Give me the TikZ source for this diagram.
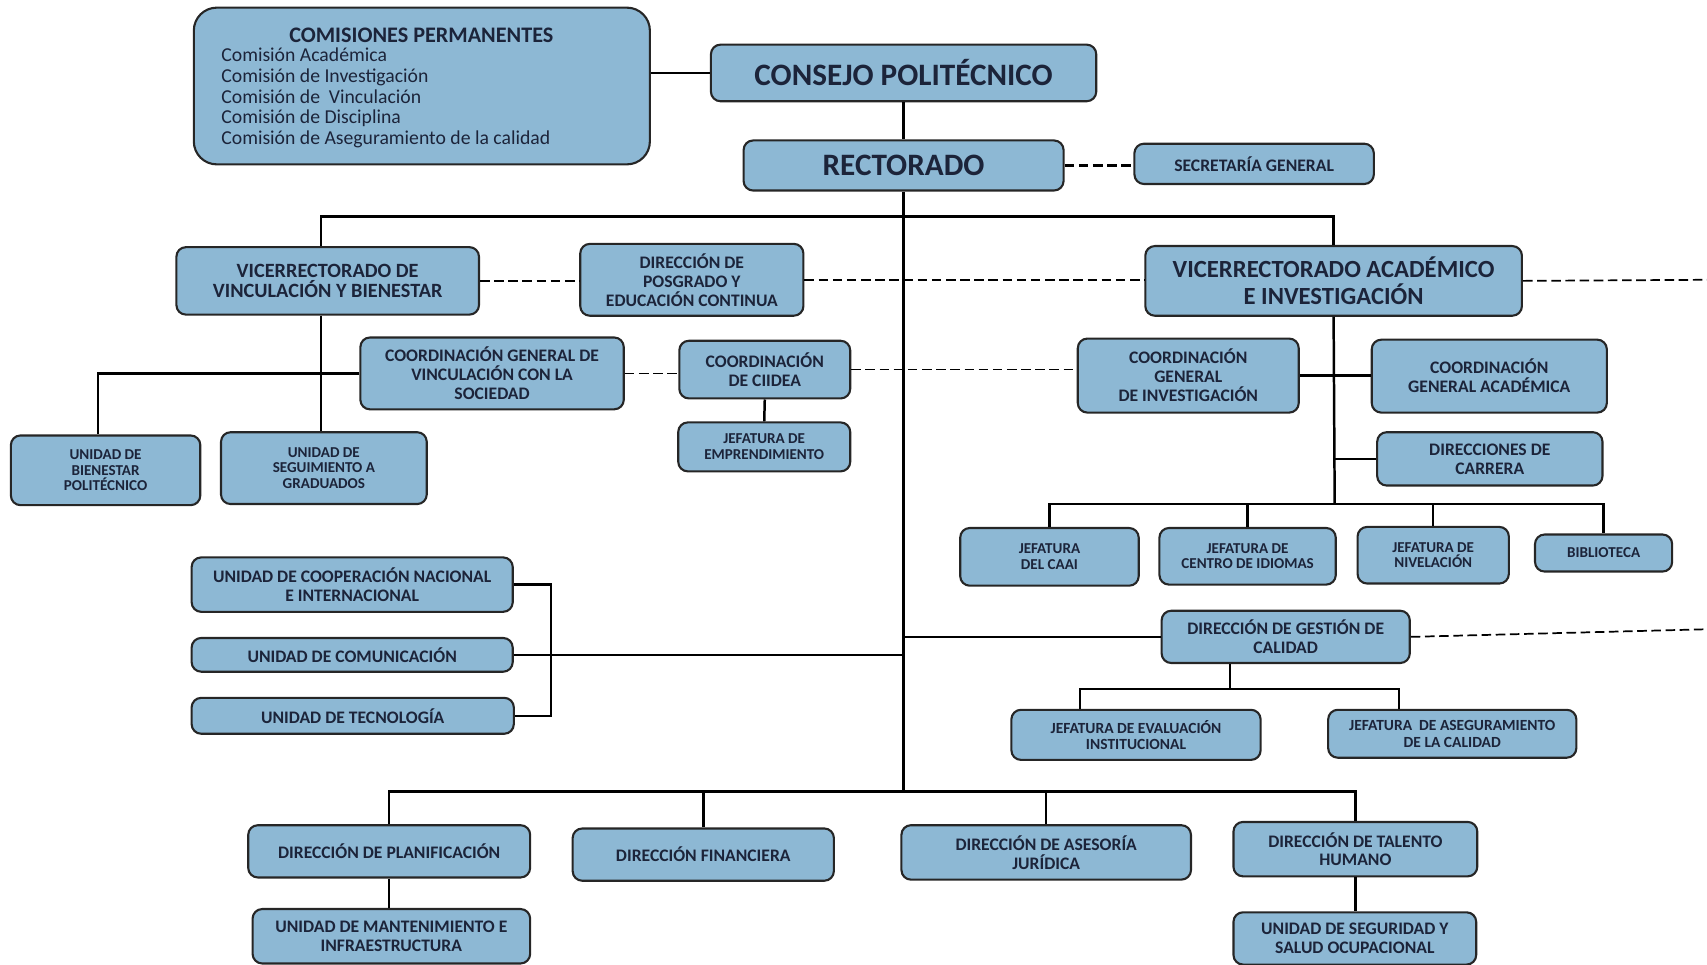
\documentclass[tikz,border=0pt]{standalone}
\usepackage{fontspec}
\setmainfont{Carlito}
\usetikzlibrary{positioning}
\definecolor{boxblue}{RGB}{141,184,212}
\definecolor{boxtext}{RGB}{28,36,58}

\tikzset{
  box/.style={draw=black!85, line width=1.1pt, fill=boxblue, rounded corners=5pt,
              align=center, text=boxtext, inner sep=1pt},
  link/.style={line width=1.3pt, black},
  dlink/.style={line width=0.9pt, black, dash pattern=on 5pt off 2.4pt},
  huge/.style={font=\fontsize{16.3}{18}\selectfont\bfseries},
  big/.style={font=\fontsize{12.9}{13.8}\selectfont\bfseries},
  mid/.style={font=\fontsize{9.2}{9.9}\selectfont\bfseries},
  small/.style={font=\fontsize{8.1}{8.6}\selectfont\bfseries},
  tiny/.style={font=\fontsize{7.9}{8.1}\selectfont\bfseries}
}

\begin{document}
\begin{tikzpicture}[x=0.02cm,y=-0.02cm]
    \useasboundingbox (0,0) rectangle (1568,886);

    % top: commissions, council, rectorate
    \node[box, rounded corners=12pt, minimum width=8.38cm, minimum height=2.88cm] (com) at (387.5,79) {};
    \node[text=boxtext, font=\fontsize{11.6}{13}\selectfont\bfseries] (comhead) at (387,32) {COMISIONES PERMANENTES};
    \node[text=boxtext, align=left, anchor=north west, inner sep=0pt,
          font=\fontsize{10.3}{10.8}\selectfont] (comlist) at (203,44)
          {Comisión Académica\\ Comisión de Investigación\\ Comisión de\ \ Vinculación\\
           Comisión de Disciplina\\ Comisión de Aseguramiento de la calidad};
    \node[box, huge, minimum width=7.08cm, minimum height=1.04cm] (consejo) at (830,67) {CONSEJO POLITÉCNICO};
    \node[box, huge, minimum width=5.88cm, minimum height=0.92cm] (rect) at (830,152) {RECTORADO};
    \node[box, mid, minimum width=4.4cm, minimum height=0.74cm] (secgen) at (1152,150.5) {SECRETARÍA GENERAL};

    % vice-rectorates
    \node[box, font=\fontsize{10.6}{10.5}\selectfont\bfseries, minimum width=5.56cm, minimum height=1.24cm] (vvinc) at (301,258) {VICERRECTORADO DE\\ VINCULACIÓN Y BIENESTAR};
    \node[box, mid, minimum width=4.1cm, minimum height=1.32cm] (posgr) at (635.5,257) {DIRECCIÓN DE\\ POSGRADO Y\\ EDUCACIÓN CONTINUA};
    \node[box, big, minimum width=6.92cm, minimum height=1.28cm] (vacad) at (1225,258) {VICERRECTORADO ACADÉMICO\\ E INVESTIGACIÓN};

    % coordinations
    \node[box, mid, minimum width=4.84cm, minimum height=1.32cm] (cgvinc) at (452,343) {COORDINACIÓN GENERAL DE\\ VINCULACIÓN CON LA\\ SOCIEDAD};
    \node[box, mid, minimum width=3.14cm, minimum height=1.06cm] (ciidea) at (702.5,339.5) {COORDINACIÓN\\ DE CIIDEA};
    \node[box, tiny, minimum width=3.16cm, minimum height=0.9cm] (emprend) at (702,410.5) {JEFATURA DE\\ EMPRENDIMIENTO};
    \node[box, tiny, minimum width=3.48cm, minimum height=1.28cm] (bienestar) at (97,432) {UNIDAD DE\\ BIENESTAR\\ POLITÉCNICO};
    \node[box, tiny, minimum width=3.78cm, minimum height=1.32cm] (segui) at (297.5,430) {UNIDAD DE\\ SEGUIMIENTO A\\ GRADUADOS};
    \node[box, mid, minimum width=4.06cm, minimum height=1.36cm] (cginv) at (1091.5,345) {COORDINACIÓN\\ GENERAL\\ DE INVESTIGACIÓN};
    \node[box, mid, minimum width=4.32cm, minimum height=1.34cm] (cgacad) at (1368,345.5) {COORDINACIÓN\\ GENERAL ACADÉMICA};
    \node[box, mid, minimum width=4.14cm, minimum height=0.98cm] (dircarr) at (1368.5,421.5) {DIRECCIONES DE\\ CARRERA};

    % academic units
    \node[box, tiny, minimum width=3.28cm, minimum height=1.06cm] (caai) at (964,511.5) {JEFATURA\\ DEL CAAI};
    \node[box, tiny, minimum width=3.24cm, minimum height=1.04cm] (idiomas) at (1146,511) {JEFATURA DE\\ CENTRO DE IDIOMAS};
    \node[box, tiny, minimum width=2.78cm, minimum height=1.04cm] (nivel) at (1316.5,510) {JEFATURA DE\\ NIVELACIÓN};
    \node[box, tiny, minimum width=2.52cm, minimum height=0.68cm] (biblio) at (1473,508) {BIBLIOTECA};

    % quality
    \node[box, mid, minimum width=4.56cm, minimum height=0.96cm] (gestcal) at (1181,585) {DIRECCIÓN DE GESTIÓN DE\\ CALIDAD};
    \node[box, small, minimum width=4.58cm, minimum height=0.92cm] (evalinst) at (1043.5,675) {JEFATURA DE EVALUACIÓN\\ INSTITUCIONAL};
    \node[box, small, minimum width=4.56cm, minimum height=0.88cm] (asegcal) at (1334,674) {JEFATURA\ \ DE ASEGURAMIENTO\\ DE LA CALIDAD};

    % support units
    \node[box, mid, minimum width=5.9cm, minimum height=1.0cm] (coop) at (323.5,537) {UNIDAD DE COOPERACIÓN NACIONAL\\ E INTERNACIONAL};
    \node[box, mid, minimum width=5.9cm, minimum height=0.62cm] (comun) at (323.5,601.5) {UNIDAD DE COMUNICACIÓN};
    \node[box, mid, minimum width=5.92cm, minimum height=0.66cm] (tecno) at (324,657.5) {UNIDAD DE TECNOLOGÍA};

    % directions
    \node[box, mid, minimum width=5.18cm, minimum height=0.96cm] (planif) at (357.5,782) {DIRECCIÓN DE PLANIFICACIÓN};
    \node[box, mid, minimum width=4.8cm, minimum height=0.96cm] (financ) at (646,785) {DIRECCIÓN FINANCIERA};
    \node[box, mid, minimum width=5.32cm, minimum height=1.0cm] (asesor) at (961,783) {DIRECCIÓN DE ASESORÍA\\ JURÍDICA};
    \node[box, mid, minimum width=4.48cm, minimum height=1.0cm] (talento) at (1245,780) {DIRECCIÓN DE TALENTO\\ HUMANO};
    \node[box, mid, minimum width=5.1cm, minimum height=1.0cm] (manten) at (359.5,860) {UNIDAD DE MANTENIMIENTO E\\ INFRAESTRUCTURA};
    \node[box, mid, minimum width=4.46cm, minimum height=0.96cm] (segur) at (1244.5,862) {UNIDAD DE SEGURIDAD Y\\ SALUD OCUPACIONAL};

    % bus points and loose ends
    \coordinate (topbus) at (830,199);
    \coordinate (acadbus) at (1226,463);
    \coordinate (calbus) at (1130,633);
    \coordinate (botbus) at (830,727);
    \coordinate (edgeA) at (1568,257);
    \coordinate (edgeB) at (1568,578);

    % solid connectors
    \draw[link] (consejo.west) -- (consejo.west -| com.east);
    \draw[link] (consejo.south) -- (rect.north);
    \draw[link] (rect.south) -- (botbus);
    \draw[link] ([xshift=-0.12cm]vvinc.north) |- (topbus) -| (vacad.north);
    \draw[link] ([xshift=-0.12cm]vvinc.south) -- ([xshift=-0.12cm]vvinc.south |- segui.north);
    \draw[link] (cgvinc.west) -| ([xshift=-0.14cm]bienestar.north);
    \draw[link] (ciidea.south) -- (emprend.north);
    \draw[link] (vacad.south) -- (acadbus);
    \draw[link] (cginv.east) -- (cginv.east -| cgacad.west);
    \draw[link] (dircarr.west) -- (dircarr.west -| acadbus);
    \draw[link] (caai.north) |- (acadbus) -| (biblio.north);
    \draw[link] (idiomas.north) -- (idiomas.north |- acadbus);
    \draw[link] (nivel.north) -- (nivel.north |- acadbus);
    \draw[link] (gestcal.west) -- (gestcal.west -| botbus);
    \draw[link] (gestcal.south -| calbus) -- (calbus);
    \draw[link] ([xshift=-1.03cm]evalinst.north) |- (calbus) -| ([xshift=-0.98cm]asegcal.north);
    \draw[link] (coop.east) -| ([xshift=0.66cm]tecno.east) -- (tecno.east);
    \draw[link] (comun.east) -- (comun.east -| botbus);
    \draw[link] (planif.north) |- (botbus) -| (talento.north);
    \draw[link] (financ.north) -- (financ.north |- botbus);
    \draw[link] (asesor.north) -- (asesor.north |- botbus);
    \draw[link] (planif.south) -- (planif.south |- manten.north);
    \draw[link] (talento.south) -- (talento.south |- segur.north);

    % dashed connectors
    \draw[dlink, line width=1.3pt] (rect.east) -- (rect.east -| secgen.west);
    \draw[dlink] (vvinc.east) -- (vvinc.east -| posgr.west);
    \draw[dlink] (posgr.east) -- (posgr.east -| vacad.west);
    \draw[dlink] (vacad.east) -- (edgeA);
    \draw[dlink] (cgvinc.east) -- (cgvinc.east -| ciidea.west);
    \draw[dlink] (ciidea.east) -- (ciidea.east -| cginv.west);
    \draw[dlink] (gestcal.east) -- (edgeB);
\end{tikzpicture}
\end{document}
